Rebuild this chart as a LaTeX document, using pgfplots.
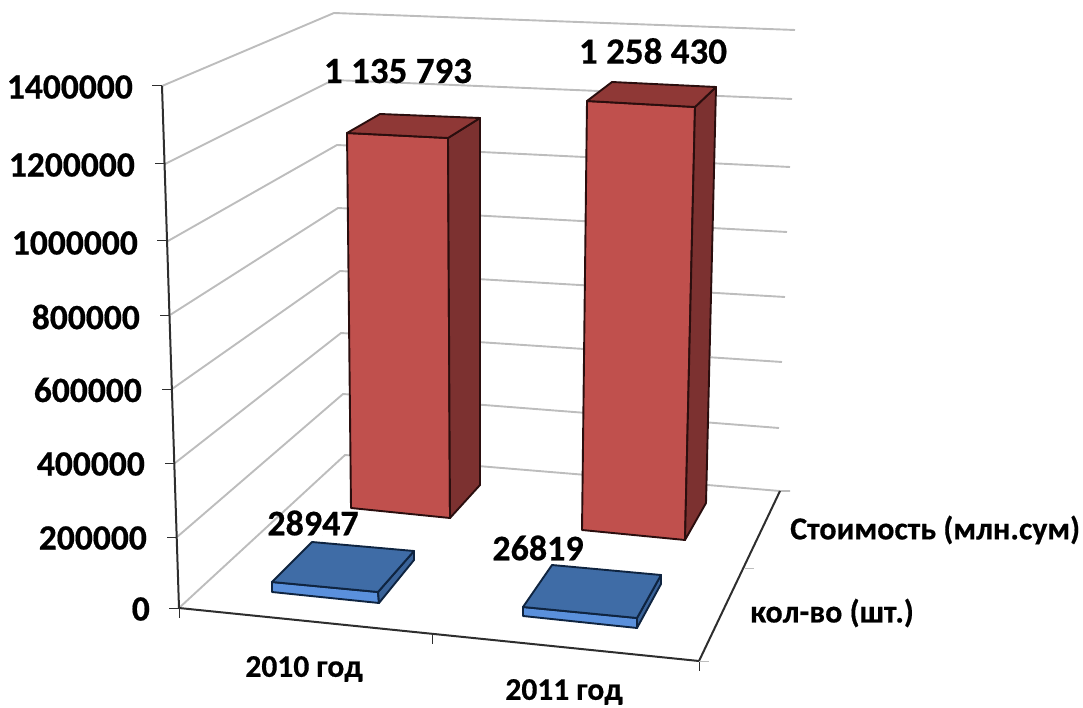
\documentclass[border=0pt]{standalone}
\usepackage{pgfplots}
\pgfplotsset{compat=1.18}
\usepackage{fontspec}
\setmainfont{Carlito}[BoldFeatures={FakeBold=0.5}]
\definecolor{gridc}{HTML}{BDBDBD}
\definecolor{axc}{HTML}{2E2E2E}
\definecolor{redf}{HTML}{C0504D}
\definecolor{redt}{HTML}{8F3836}
\definecolor{reds}{HTML}{7C3130}
\definecolor{bluet}{HTML}{3F6CA6}
\definecolor{bluef}{HTML}{5A90DC}
\definecolor{blues}{HTML}{3A6399}
\definecolor{edgeb}{HTML}{0F2440}
\definecolor{edger}{HTML}{2A0E0E}
\tikzset{
  grid line/.style={draw=gridc, line width=1.9pt},
  axis line/.style={draw=axc, line width=2pt},
  tick line/.style={draw=axc, line width=1pt},
  bar edge r/.style={draw=edger, line width=1.9pt, line join=round},
  bar edge b/.style={draw=edgeb, line width=1.9pt, line join=round},
  lab/.style={font=\fontsize{#1}{#1}\selectfont\bfseries, inner sep=0pt, text=black},
}
\begin{document}
\begin{tikzpicture}
\begin{axis}[
  name=main, scale only axis, width=1083pt, height=708pt,
  xmin=0, xmax=1083, ymin=0, ymax=708, y dir=reverse,
  hide axis, clip=false,
  every axis plot/.append style={mark=none},
]
% left wall gridlines
\addplot[grid line] coordinates {(162,86)(334,13)(795,30)};
\addplot[grid line] coordinates {(165,164)(333,80)(792,99)};
\addplot[grid line] coordinates {(168,241)(337,145)(790,167)};
\addplot[grid line] coordinates {(170,315)(338,208)(787,232)};
\addplot[grid line] coordinates {(172,389)(340,271)(785,297)};
\addplot[grid line] coordinates {(175,463)(341,333)(782,362)};
\addplot[grid line] coordinates {(177,537)(343,394)(779,428)};
\addplot[grid line] coordinates {(179,608)(345,455)(780,491)(790,491)};
% floor right side and front
\addplot[axis line] coordinates {(699,661)(780,491)};
\addplot[axis line] coordinates {(179,608)(699,661)};
\addplot[axis line] coordinates {(162,86)(179,608)};
% ticks on value axis
\addplot[tick line] coordinates {(152,86)(162,86)};
\addplot[tick line] coordinates {(155,164)(165,164)};
\addplot[tick line] coordinates {(157,241)(168,241)};
\addplot[tick line] coordinates {(160,315)(170,315)};
\addplot[tick line] coordinates {(162,389)(172,389)};
\addplot[tick line] coordinates {(165,463)(175,463)};
\addplot[tick line] coordinates {(167,537)(177,537)};
\addplot[tick line] coordinates {(169,608)(179,608)};
% ticks on category and depth axes
\addplot[tick line] coordinates {(179,608)(179,618)};
\addplot[tick line] coordinates {(432,634)(432,644)};
\addplot[tick line] coordinates {(699,661)(699,671)};
\addplot[draw=gridc, line width=1pt] coordinates {(699,661)(709,661)};
\addplot[draw=gridc, line width=1pt] coordinates {(745,568)(754,568)};
% red bar 2010
\addplot[bar edge r, fill=redf] coordinates {(347,133)(448,138)(450,518)(351,508)} --cycle;
\addplot[bar edge r, fill=reds] coordinates {(448,138)(480,118)(480,485)(450,518)} --cycle;
\addplot[bar edge r, fill=redt] coordinates {(347,133)(380,114)(480,118)(448,138)} --cycle;
% red bar 2011
\addplot[bar edge r, fill=redf] coordinates {(587,101)(695,107)(685,540)(582,530)} --cycle;
\addplot[bar edge r, fill=reds] coordinates {(695,107)(716,87)(706,503)(685,540)} --cycle;
\addplot[bar edge r, fill=redt] coordinates {(587,101)(612,82)(716,87)(695,107)} --cycle;
% blue bar 2010
\addplot[bar edge b, fill=bluef] coordinates {(272,582)(378,592)(379,603)(272,592)} --cycle;
\addplot[bar edge b, fill=blues] coordinates {(378,592)(414,551)(414,560)(379,603)} --cycle;
\addplot[bar edge b, fill=bluet] coordinates {(272,582)(312,542)(414,551)(378,592)} --cycle;
% blue bar 2011
\addplot[bar edge b, fill=bluef] coordinates {(523,607)(637,618)(637,628)(523,616)} --cycle;
\addplot[bar edge b, fill=blues] coordinates {(637,618)(661,575)(661,584)(637,628)} --cycle;
\addplot[bar edge b, fill=bluet] coordinates {(523,607)(552,565)(661,575)(637,618)} --cycle;
% value axis labels
\node[lab=35.5, anchor=east] at (axis cs:133,87) {1400000};
\node[lab=35.5, anchor=east] at (axis cs:135,165) {1200000};
\node[lab=35.5, anchor=east] at (axis cs:138,243) {1000000};
\node[lab=35.5, anchor=east] at (axis cs:140,317) {800000};
\node[lab=35.5, anchor=east] at (axis cs:142,390) {600000};
\node[lab=35.5, anchor=east] at (axis cs:145,464) {400000};
\node[lab=35.5, anchor=east] at (axis cs:147,538) {200000};
\node[lab=35.5, anchor=east] at (axis cs:150,609) {0};
% data labels
\node[lab=37] at (axis cs:398,71) {1 135 793};
\node[lab=37] at (axis cs:653,51) {1 258 430};
\node[lab=36] at (axis cs:313,523) {28947};
\node[lab=36] at (axis cs:538,548) {26819};
% category and depth labels
\node[lab=31.5] at (axis cs:304,669) {2010 год};
\node[lab=31.5] at (axis cs:564,692) {2011 год};
\node[lab=32, anchor=west] at (axis cs:790,530) {Стоимость (млн.сум)};
\node[lab=32, anchor=west] at (axis cs:750,613) {кол-во (шт.)};
\end{axis}
\pgfresetboundingbox
\useasboundingbox (main.south west) rectangle (main.north east);
\end{tikzpicture}
\end{document}
